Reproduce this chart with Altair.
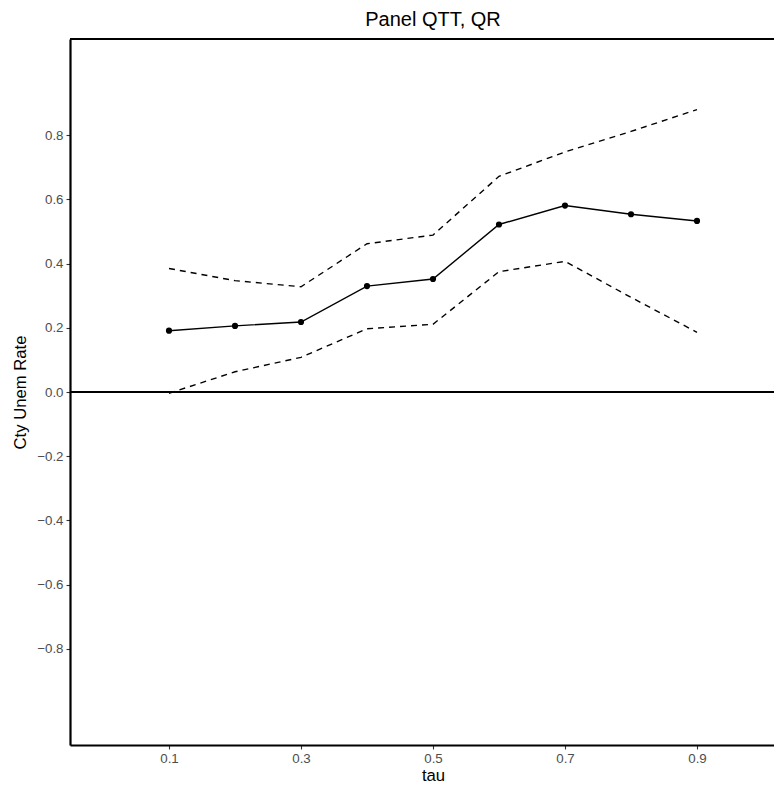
import altair as alt
import pandas as pd

tau = [0.1, 0.2, 0.3, 0.4, 0.5, 0.6, 0.7, 0.8, 0.9]
est = [0.191, 0.206, 0.218, 0.330, 0.352, 0.522, 0.581, 0.554, 0.533]
upper = [0.385, 0.347, 0.328, 0.462, 0.489, 0.672, 0.748, 0.812, 0.880]
lower = [-0.004, 0.063, 0.108, 0.197, 0.211, 0.375, 0.407, 0.295, 0.186]
y_ticks = [-0.8, -0.6, -0.4, -0.2, 0.0, 0.2, 0.4, 0.6, 0.8]
x_ticks = [0.1, 0.3, 0.5, 0.7, 0.9]
title_text = ["Panel QTT, QR"]

df = pd.DataFrame({"tau": tau, "est": est, "upper": upper, "lower": lower})

FONT = "Liberation Sans"
W, H = 704, 706
FULL_W = 726  # full panel width of the reference (right part is cut off)

xscale = alt.Scale(domain=[-0.05, -0.05 + 1.1 * W / FULL_W], nice=False, zero=False)
yscale = alt.Scale(domain=[-1.1, 1.1], nice=False, zero=False)

xaxis = alt.Axis(values=x_ticks, format=".1f", title="tau", grid=False,
                 titleFontSize=16.7, titleFont=FONT, titleFontWeight="normal",
                 titleColor="black", titleBaseline="alphabetic", titleY=35,
                 titleX=FULL_W / 2,
                 labelFontSize=13.3, labelFont=FONT, labelColor="#4D4D4D",
                 labelPadding=2, tickSize=4, tickColor="#333333", tickWidth=1.1,
                 domainColor="black", domainWidth=2.2)
yaxis = alt.Axis(values=y_ticks, format=".1f", title="Cty Unem Rate", grid=False,
                 titleFontSize=16.7, titleFont=FONT, titleFontWeight="normal",
                 titleColor="black", titleAngle=270, titleBaseline="alphabetic",
                 titleAlign="center", titleX=-45, titleY=H / 2,
                 labelFontSize=13.3, labelFont=FONT, labelColor="#4D4D4D",
                 labelPadding=3, tickSize=4, tickColor="#333333", tickWidth=1.1,
                 domainColor="black", domainWidth=2.2)

base = alt.Chart(df)

zero = base.mark_rule(color="black", strokeWidth=1.2).encode(
    y=alt.datum(0, scale=yscale, axis=yaxis)
)
top_border = base.mark_rule(color="black", strokeWidth=2.2).encode(
    x=alt.value(0), x2=alt.value(W), y=alt.value(0)
)
title = alt.Chart(pd.DataFrame({"t": title_text})).mark_text(
    font=FONT, fontSize=20, color="black", baseline="alphabetic", align="center"
).encode(text="t:N", x=alt.value(FULL_W / 2), y=alt.value(-13))

lo = base.mark_line(color="black", strokeWidth=1.4, strokeDash=[6, 5]).encode(
    x=alt.X("tau:Q", scale=xscale, axis=xaxis),
    y=alt.Y("lower:Q", scale=yscale, axis=yaxis),
)
up = base.mark_line(color="black", strokeWidth=1.4, strokeDash=[6, 5]).encode(
    x=alt.X("tau:Q", scale=xscale, axis=xaxis),
    y=alt.Y("upper:Q", scale=yscale, axis=yaxis),
)
mid = base.mark_line(color="black", strokeWidth=1.4).encode(
    x=alt.X("tau:Q", scale=xscale, axis=xaxis),
    y=alt.Y("est:Q", scale=yscale, axis=yaxis),
)
pts = base.mark_circle(color="black", size=38, opacity=1).encode(
    x=alt.X("tau:Q", scale=xscale, axis=xaxis),
    y=alt.Y("est:Q", scale=yscale, axis=yaxis),
)

chart = alt.layer(zero, top_border, lo, up, mid, pts, title).properties(
    width=W, height=H,
    autosize=alt.AutoSizeParams(type="none"),
    padding={"left": 62, "top": 31, "right": 0, "bottom": 38},
).configure_view(stroke=None).configure(background="white")

chart.save("out.html", embed_options={"renderer": "svg", "actions": False})
